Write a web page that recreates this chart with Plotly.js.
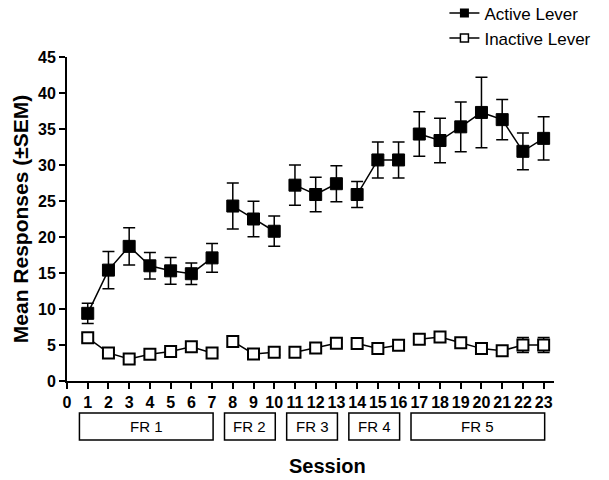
<!DOCTYPE html>
<html>
<head>
<meta charset="utf-8">
<script src="https://cdn.plot.ly/plotly-3.0.1.min.js"></script>
<style>html,body{margin:0;padding:0;background:#fff;}#chart{width:609px;height:480px;}</style>
</head>
<body>
<div id="chart"></div>
<script>
// ---- data ----
const sessions = [1,2,3,4,5,6,7,8,9,10,11,12,13,14,15,16,17,18,19,20,21,22,23];
const phase = [1,1,1,1,1,1,1,2,2,2,3,3,3,4,4,4,5,5,5,5,5,5,5];
const phaseLabels = ["FR 1","FR 2","FR 3","FR 4","FR 5"];
const active = [9.4,15.4,18.7,16.0,15.3,14.9,17.1,24.3,22.5,20.8,27.2,25.9,27.4,25.9,30.7,30.7,34.3,33.4,35.3,37.3,36.3,31.9,33.7];
const activeSEM = [1.4,2.6,2.6,1.85,1.85,1.5,2.0,3.2,2.45,2.1,2.8,2.4,2.5,1.8,2.5,2.5,3.1,3.1,3.45,4.9,2.8,2.55,3.0];
const inactive = [6.0,3.9,3.05,3.7,4.1,4.75,3.9,5.5,3.75,4.0,4.0,4.6,5.25,5.2,4.5,4.95,5.8,6.1,5.3,4.5,4.2,5.0,5.0];
const inactiveSEM = [0.6,0.4,0.4,0.4,0.4,0.4,0.4,0.7,0.4,0.4,0.4,0.4,0.5,0.4,0.4,0.4,0.6,0.4,0.5,0.4,0.4,1.05,1.05];
const xTicks = [0,1,2,3,4,5,6,7,8,9,10,11,12,13,14,15,16,17,18,19,20,21,22,23];
const yTicks = [0,5,10,15,20,25,30,35,40,45];
const seriesNames = ["Active Lever","Inactive Lever"];

// insert gaps between phases so lines break
function withGaps(vals) {
  const out = [];
  for (let i = 0; i < vals.length; i++) {
    if (i > 0 && phase[i] !== phase[i-1]) out.push(null);
    out.push(vals[i]);
  }
  return out;
}
const xs = withGaps(sessions);

const font = "Liberation Sans, Arial, sans-serif";
const activeMarker = {symbol: "square", size: 12, color: "#000", line: {color: "#000", width: 1}};
const inactiveMarker = {symbol: "square", size: 11, color: "#fff", line: {color: "#000", width: 2}};

const traces = [
  {
    x: xs, y: withGaps(active), name: seriesNames[0], type: "scatter", mode: "lines+markers",
    connectgaps: false, showlegend: false,
    line: {color: "#000", width: 1.5},
    marker: activeMarker,
    error_y: {type: "data", array: withGaps(activeSEM), visible: true, color: "#000", thickness: 1.5, width: 6}
  },
  {
    x: xs, y: withGaps(inactive), name: seriesNames[1], type: "scatter", mode: "lines+markers",
    connectgaps: false, showlegend: false,
    line: {color: "#000", width: 1.5},
    marker: inactiveMarker,
    error_y: {type: "data", array: withGaps(inactiveSEM), visible: true, color: "#000", thickness: 1.5, width: 6}
  },
  // legend-only entries with smaller symbols
  {x: [null], y: [null], name: seriesNames[0], type: "scatter", mode: "lines+markers",
    line: {color: "#000", width: 1.5}, marker: {symbol: "square", size: 9, color: "#000"}},
  {x: [null], y: [null], name: seriesNames[1], type: "scatter", mode: "lines+markers",
    line: {color: "#000", width: 1.5}, marker: {symbol: "square", size: 8, color: "#fff", line: {color: "#000", width: 1.5}}}
];

// phase boxes
const shapes = [];
const annotations = [];
phaseLabels.forEach((lab, k) => {
  const idx = sessions.filter((s, i) => phase[i] === k + 1);
  const x0 = Math.min(...idx) - 0.4, x1 = Math.max(...idx) + 0.05;
  shapes.push({type: "rect", xref: "x", yref: "paper", x0: x0, x1: x1, y0: -0.182, y1: -0.099,
    line: {color: "#000", width: 1.5}, fillcolor: "rgba(0,0,0,0)"});
  annotations.push({xref: "x", yref: "paper", x: (x0 + x1) / 2, y: -0.14, text: lab, showarrow: false,
    font: {family: font, size: 15, color: "#000"}, xanchor: "center", yanchor: "middle"});
});
annotations.push({xref: "paper", yref: "paper", x: 0.534, y: -0.262, text: "<b>Session</b>", showarrow: false,
  font: {family: font, size: 20, color: "#000"}, xanchor: "center", yanchor: "middle"});

const layout = {
  width: 609, height: 480,
  margin: {l: 67, r: 55, t: 57, b: 99, autoexpand: false},
  paper_bgcolor: "#fff", plot_bgcolor: "#fff",
  font: {family: font, color: "#000"},
  showlegend: true,
  legend: {x: 0.775, y: 1.19, xanchor: "left", yanchor: "top", font: {family: font, size: 17, color: "#000"},
    bgcolor: "rgba(0,0,0,0)", tracegroupgap: 0, itemsizing: "trace"},
  xaxis: {
    range: [0, 23.5], tickmode: "array", tickvals: xTicks, ticktext: xTicks.map(v => "<b>" + v + "</b>"),
    showgrid: false, zeroline: false, showline: true, linecolor: "#000", linewidth: 2,
    ticks: "outside", ticklen: 6, tickwidth: 2, tickcolor: "#000",
    tickfont: {family: font, size: 16, color: "#000"}, fixedrange: true
  },
  yaxis: {
    range: [0, 45], tickmode: "array", tickvals: yTicks, ticktext: yTicks.map(v => "<b>" + v + "</b>"),
    showgrid: false, zeroline: false, showline: true, linecolor: "#000", linewidth: 2,
    ticks: "outside", ticklen: 6, tickwidth: 2, tickcolor: "#000",
    tickfont: {family: font, size: 16, color: "#000"},
    title: {text: "<b>Mean Responses (±SEM)</b>", font: {family: font, size: 21, color: "#000"}, standoff: 4},
    fixedrange: true
  },
  shapes: shapes,
  annotations: annotations
};

Plotly.newPlot("chart", traces, layout, {displayModeBar: false, staticPlot: true});
</script>
</body>
</html>
